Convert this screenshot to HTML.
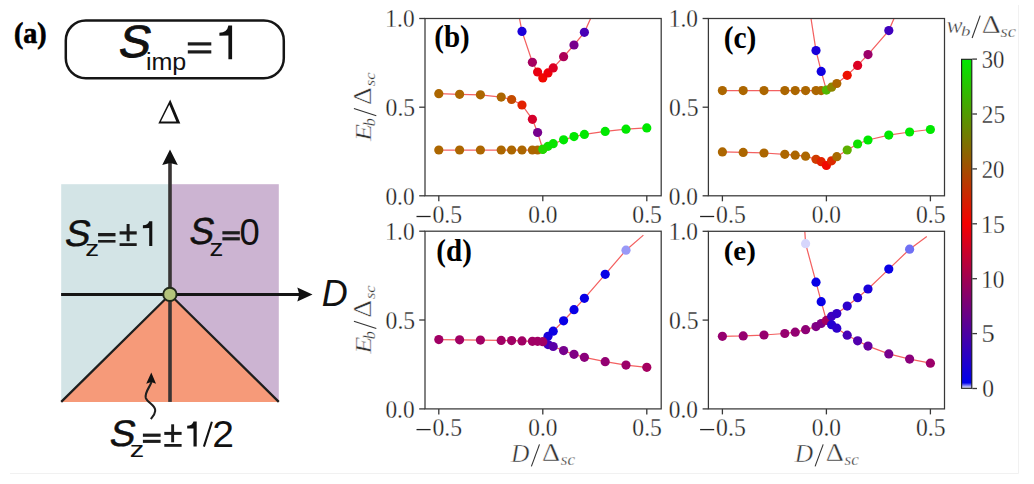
<!DOCTYPE html>
<html><head><meta charset="utf-8"><style>html,body{margin:0;padding:0;background:#fff;width:1034px;height:484px;overflow:hidden}</style></head><body>
<svg width="1034" height="484" viewBox="0 0 1034 484" style="display:block">
<rect x="0" y="0" width="1034" height="484" fill="#ffffff"/>
<line x1="1018.5" y1="5" x2="1018.5" y2="473.5" stroke="#f1f1f1" stroke-width="1"/>
<line x1="10" y1="473.5" x2="1018.5" y2="473.5" stroke="#f1f1f1" stroke-width="1"/>
<clipPath id="clipb"><rect x="425.0" y="18.5" width="236.2" height="177.3"/></clipPath>
<g clip-path="url(#clipb)">
<polyline fill="none" stroke="#f03a3a" stroke-opacity="0.8" stroke-width="1.25" points="519.5,18.5 522.0,31.4 532.4,62.3 537.6,72.0 542.8,77.9 548.0,72.9 553.2,67.9 563.6,56.7 574.0,45.0 584.4,32.3 590.6,18.5"/>
<polyline fill="none" stroke="#f03a3a" stroke-opacity="0.8" stroke-width="1.25" points="438.8,93.7 459.6,94.3 480.4,94.8 501.2,97.1 511.6,99.5 522.0,105.0 532.4,119.3 537.6,132.5 542.8,149.3"/>
<polyline fill="none" stroke="#f03a3a" stroke-opacity="0.8" stroke-width="1.25" points="542.8,149.3 548.0,146.3 553.2,143.7 563.6,139.8 574.0,136.6 584.4,134.4 605.2,131.4 626.0,129.2 646.8,127.9"/>
<polyline fill="none" stroke="#f03a3a" stroke-opacity="0.8" stroke-width="1.25" points="438.8,150.0 459.6,150.0 480.4,150.0 501.2,150.0 511.6,150.0 522.0,150.0 532.4,150.0 537.6,150.0 542.8,149.3"/>
<circle cx="522.0" cy="31.4" r="4.6" fill="#1a00da"/>
<circle cx="532.4" cy="62.3" r="4.6" fill="#a50060"/>
<circle cx="537.6" cy="72.0" r="4.6" fill="#e90011"/>
<circle cx="542.8" cy="77.9" r="4.6" fill="#f10800"/>
<circle cx="548.0" cy="72.9" r="4.6" fill="#ef0008"/>
<circle cx="553.2" cy="67.9" r="4.6" fill="#dc0022"/>
<circle cx="563.6" cy="56.7" r="4.6" fill="#ad0057"/>
<circle cx="574.0" cy="45.0" r="4.6" fill="#77008d"/>
<circle cx="584.4" cy="32.3" r="4.6" fill="#4800b6"/>
<circle cx="438.8" cy="93.7" r="4.6" fill="#ac6600"/>
<circle cx="459.6" cy="94.3" r="4.6" fill="#ac6600"/>
<circle cx="480.4" cy="94.8" r="4.6" fill="#ac6600"/>
<circle cx="501.2" cy="97.1" r="4.6" fill="#ac6600"/>
<circle cx="511.6" cy="99.5" r="4.6" fill="#c44b00"/>
<circle cx="522.0" cy="105.0" r="4.6" fill="#e32100"/>
<circle cx="532.4" cy="119.3" r="4.6" fill="#d5002b"/>
<circle cx="537.6" cy="132.5" r="4.6" fill="#77008d"/>
<circle cx="542.8" cy="149.3" r="4.6" fill="#23d700"/>
<circle cx="548.0" cy="146.3" r="4.6" fill="#11e100"/>
<circle cx="553.2" cy="143.7" r="4.6" fill="#08e500"/>
<circle cx="563.6" cy="139.8" r="4.6" fill="#00e800"/>
<circle cx="574.0" cy="136.6" r="4.6" fill="#00e800"/>
<circle cx="584.4" cy="134.4" r="4.6" fill="#00e800"/>
<circle cx="605.2" cy="131.4" r="4.6" fill="#00e800"/>
<circle cx="626.0" cy="129.2" r="4.6" fill="#00e800"/>
<circle cx="646.8" cy="127.9" r="4.6" fill="#00e800"/>
<circle cx="438.8" cy="150.0" r="4.6" fill="#ac6600"/>
<circle cx="459.6" cy="150.0" r="4.6" fill="#ac6600"/>
<circle cx="480.4" cy="150.0" r="4.6" fill="#ac6600"/>
<circle cx="501.2" cy="150.0" r="4.6" fill="#ac6600"/>
<circle cx="511.6" cy="150.0" r="4.6" fill="#ac6600"/>
<circle cx="522.0" cy="150.0" r="4.6" fill="#ac6600"/>
<circle cx="532.4" cy="150.0" r="4.6" fill="#ac6600"/>
<circle cx="537.6" cy="150.0" r="4.6" fill="#ac6600"/>
<circle cx="542.8" cy="149.3" r="4.6" fill="#23d700"/>
</g>
<rect x="425.0" y="18.5" width="236.2" height="177.3" fill="none" stroke="#383838" stroke-width="1.25"/>
<line x1="438.8" y1="195.8" x2="438.8" y2="201.3" stroke="#383838" stroke-width="1.3"/>
<line x1="542.8" y1="195.8" x2="542.8" y2="201.3" stroke="#383838" stroke-width="1.3"/>
<line x1="646.8" y1="195.8" x2="646.8" y2="201.3" stroke="#383838" stroke-width="1.3"/>
<line x1="419.2" y1="195.8" x2="425.0" y2="195.8" stroke="#383838" stroke-width="1.3"/>
<line x1="419.2" y1="107.2" x2="425.0" y2="107.2" stroke="#383838" stroke-width="1.3"/>
<line x1="419.2" y1="18.5" x2="425.0" y2="18.5" stroke="#383838" stroke-width="1.3"/>
<text transform="translate(432.51,223.00) scale(0.5936,0.6385)" font-family='"Liberation Serif", serif' font-size="40" fill="#222222" stroke="#fff" stroke-width="0.45">0.5</text>
<line x1="416.5" y1="216.5" x2="430.6" y2="216.5" stroke="#222222" stroke-width="1.3"/>
<text transform="translate(528.22,223.00) scale(0.5833,0.6385)" font-family='"Liberation Serif", serif' font-size="40" fill="#222222" stroke="#fff" stroke-width="0.45">0.0</text>
<text transform="translate(632.31,223.00) scale(0.5915,0.6385)" font-family='"Liberation Serif", serif' font-size="40" fill="#222222" stroke="#fff" stroke-width="0.45">0.5</text>
<text transform="translate(385.42,204.70) scale(0.5833,0.6346)" font-family='"Liberation Serif", serif' font-size="40" fill="#222222" stroke="#fff" stroke-width="0.45">0.0</text>
<text transform="translate(385.61,116.05) scale(0.5915,0.6346)" font-family='"Liberation Serif", serif' font-size="40" fill="#222222" stroke="#fff" stroke-width="0.45">0.5</text>
<text transform="translate(385.35,27.40) scale(0.5848,0.6346)" font-family='"Liberation Serif", serif' font-size="40" fill="#222222" stroke="#fff" stroke-width="0.45">1.0</text>
<clipPath id="clipc"><rect x="708.4" y="18.5" width="236.1" height="177.3"/></clipPath>
<g clip-path="url(#clipc)">
<polyline fill="none" stroke="#f03a3a" stroke-opacity="0.8" stroke-width="1.25" points="811.0,18.5 816.0,50.6 821.2,71.4 826.4,90.1"/>
<polyline fill="none" stroke="#f03a3a" stroke-opacity="0.8" stroke-width="1.25" points="722.4,90.6 743.2,90.6 764.0,90.6 784.8,90.6 795.2,90.6 805.6,90.6 816.0,90.6 821.2,90.6 826.4,90.1 831.6,87.2 836.8,83.5 847.2,75.3 857.6,65.4 868.0,54.6 888.8,30.6 894.0,18.5"/>
<polyline fill="none" stroke="#f03a3a" stroke-opacity="0.8" stroke-width="1.25" points="722.4,151.9 743.2,152.4 764.0,153.0 784.8,154.3 795.2,155.2 805.6,156.2 816.0,159.3 821.2,161.7 826.4,165.5 831.6,160.8 836.8,156.7 847.2,150.0 857.6,144.0 868.0,140.0 888.8,135.1 909.6,132.0 930.4,129.5"/>
<circle cx="816.0" cy="50.6" r="4.6" fill="#1a00da"/>
<circle cx="821.2" cy="71.4" r="4.6" fill="#1100e0"/>
<circle cx="722.4" cy="90.6" r="4.6" fill="#ac6600"/>
<circle cx="743.2" cy="90.6" r="4.6" fill="#ac6600"/>
<circle cx="764.0" cy="90.6" r="4.6" fill="#ac6600"/>
<circle cx="784.8" cy="90.6" r="4.6" fill="#ac6600"/>
<circle cx="795.2" cy="90.6" r="4.6" fill="#ac6600"/>
<circle cx="805.6" cy="90.6" r="4.6" fill="#ac6600"/>
<circle cx="816.0" cy="90.6" r="4.6" fill="#ac6600"/>
<circle cx="821.2" cy="90.6" r="4.6" fill="#ac6600"/>
<circle cx="826.4" cy="90.1" r="4.6" fill="#53b700"/>
<circle cx="831.6" cy="87.2" r="4.6" fill="#8d8500"/>
<circle cx="836.8" cy="83.5" r="4.6" fill="#ac6600"/>
<circle cx="847.2" cy="75.3" r="4.6" fill="#ed1000"/>
<circle cx="857.6" cy="65.4" r="4.6" fill="#dc0022"/>
<circle cx="868.0" cy="54.6" r="4.6" fill="#9c0069"/>
<circle cx="888.8" cy="30.6" r="4.6" fill="#3f00be"/>
<circle cx="722.4" cy="151.9" r="4.6" fill="#ac6600"/>
<circle cx="743.2" cy="152.4" r="4.6" fill="#ac6600"/>
<circle cx="764.0" cy="153.0" r="4.6" fill="#ac6600"/>
<circle cx="784.8" cy="154.3" r="4.6" fill="#ac6600"/>
<circle cx="795.2" cy="155.2" r="4.6" fill="#ac6600"/>
<circle cx="805.6" cy="156.2" r="4.6" fill="#ac6600"/>
<circle cx="816.0" cy="159.3" r="4.6" fill="#d03c00"/>
<circle cx="821.2" cy="161.7" r="4.6" fill="#e32100"/>
<circle cx="826.4" cy="165.5" r="4.6" fill="#f10800"/>
<circle cx="831.6" cy="160.8" r="4.6" fill="#dd2a00"/>
<circle cx="836.8" cy="156.7" r="4.6" fill="#a86a00"/>
<circle cx="847.2" cy="150.0" r="4.6" fill="#5daf00"/>
<circle cx="857.6" cy="144.0" r="4.6" fill="#11e100"/>
<circle cx="868.0" cy="140.0" r="4.6" fill="#00e800"/>
<circle cx="888.8" cy="135.1" r="4.6" fill="#00e800"/>
<circle cx="909.6" cy="132.0" r="4.6" fill="#00e800"/>
<circle cx="930.4" cy="129.5" r="4.6" fill="#00e800"/>
</g>
<rect x="708.4" y="18.5" width="236.1" height="177.3" fill="none" stroke="#383838" stroke-width="1.25"/>
<line x1="722.4" y1="195.8" x2="722.4" y2="201.3" stroke="#383838" stroke-width="1.3"/>
<line x1="826.4" y1="195.8" x2="826.4" y2="201.3" stroke="#383838" stroke-width="1.3"/>
<line x1="930.4" y1="195.8" x2="930.4" y2="201.3" stroke="#383838" stroke-width="1.3"/>
<line x1="702.6" y1="195.8" x2="708.4" y2="195.8" stroke="#383838" stroke-width="1.3"/>
<line x1="702.6" y1="107.2" x2="708.4" y2="107.2" stroke="#383838" stroke-width="1.3"/>
<line x1="702.6" y1="18.5" x2="708.4" y2="18.5" stroke="#383838" stroke-width="1.3"/>
<text transform="translate(716.11,223.00) scale(0.5936,0.6385)" font-family='"Liberation Serif", serif' font-size="40" fill="#222222" stroke="#fff" stroke-width="0.45">0.5</text>
<line x1="700.1" y1="216.5" x2="714.2" y2="216.5" stroke="#222222" stroke-width="1.3"/>
<text transform="translate(811.82,223.00) scale(0.5833,0.6385)" font-family='"Liberation Serif", serif' font-size="40" fill="#222222" stroke="#fff" stroke-width="0.45">0.0</text>
<text transform="translate(915.91,223.00) scale(0.5915,0.6385)" font-family='"Liberation Serif", serif' font-size="40" fill="#222222" stroke="#fff" stroke-width="0.45">0.5</text>
<text transform="translate(668.82,204.70) scale(0.5833,0.6346)" font-family='"Liberation Serif", serif' font-size="40" fill="#222222" stroke="#fff" stroke-width="0.45">0.0</text>
<text transform="translate(669.01,116.05) scale(0.5915,0.6346)" font-family='"Liberation Serif", serif' font-size="40" fill="#222222" stroke="#fff" stroke-width="0.45">0.5</text>
<text transform="translate(668.75,27.40) scale(0.5848,0.6346)" font-family='"Liberation Serif", serif' font-size="40" fill="#222222" stroke="#fff" stroke-width="0.45">1.0</text>
<clipPath id="clipd"><rect x="425.0" y="231.2" width="236.2" height="177.7"/></clipPath>
<g clip-path="url(#clipd)">
<polyline fill="none" stroke="#f03a3a" stroke-opacity="0.8" stroke-width="1.25" points="542.8,341.7 548.0,336.3 553.2,331.2 563.6,320.8 574.0,309.7 584.4,298.3 605.2,274.3 626.0,250.2 643.4,235.1"/>
<polyline fill="none" stroke="#f03a3a" stroke-opacity="0.8" stroke-width="1.25" points="542.8,341.7 548.0,344.6 553.2,346.5 563.6,350.6 574.0,354.3 584.4,357.3 605.2,361.7 626.0,365.1 646.8,367.3"/>
<polyline fill="none" stroke="#f03a3a" stroke-opacity="0.8" stroke-width="1.25" points="438.8,339.6 459.6,339.8 480.4,340.1 501.2,340.4 511.6,340.6 522.0,340.9 532.4,341.3 537.6,341.3 542.8,341.7"/>
<circle cx="548.0" cy="336.3" r="4.6" fill="#1a00da"/>
<circle cx="553.2" cy="331.2" r="4.6" fill="#0c00e3"/>
<circle cx="563.6" cy="320.8" r="4.6" fill="#0900e6"/>
<circle cx="574.0" cy="309.7" r="4.6" fill="#0900e6"/>
<circle cx="584.4" cy="298.3" r="4.6" fill="#0900e6"/>
<circle cx="605.2" cy="274.3" r="4.6" fill="#0900e6"/>
<circle cx="626.0" cy="250.2" r="4.6" fill="#9999f7"/>
<circle cx="548.0" cy="344.6" r="4.6" fill="#3f00be"/>
<circle cx="553.2" cy="346.5" r="4.6" fill="#5b00a6"/>
<circle cx="563.6" cy="350.6" r="4.6" fill="#77008d"/>
<circle cx="574.0" cy="354.3" r="4.6" fill="#810084"/>
<circle cx="584.4" cy="357.3" r="4.6" fill="#8a007b"/>
<circle cx="605.2" cy="361.7" r="4.6" fill="#930072"/>
<circle cx="626.0" cy="365.1" r="4.6" fill="#9c0069"/>
<circle cx="646.8" cy="367.3" r="4.6" fill="#a50060"/>
<circle cx="438.8" cy="339.6" r="4.6" fill="#a10064"/>
<circle cx="459.6" cy="339.8" r="4.6" fill="#a10064"/>
<circle cx="480.4" cy="340.1" r="4.6" fill="#a10064"/>
<circle cx="501.2" cy="340.4" r="4.6" fill="#a10064"/>
<circle cx="511.6" cy="340.6" r="4.6" fill="#a10064"/>
<circle cx="522.0" cy="340.9" r="4.6" fill="#a10064"/>
<circle cx="532.4" cy="341.3" r="4.6" fill="#a10064"/>
<circle cx="537.6" cy="341.3" r="4.6" fill="#a10064"/>
<circle cx="542.8" cy="341.7" r="4.6" fill="#a10064"/>
</g>
<rect x="425.0" y="231.2" width="236.2" height="177.7" fill="none" stroke="#383838" stroke-width="1.25"/>
<line x1="438.8" y1="408.9" x2="438.8" y2="414.4" stroke="#383838" stroke-width="1.3"/>
<line x1="542.8" y1="408.9" x2="542.8" y2="414.4" stroke="#383838" stroke-width="1.3"/>
<line x1="646.8" y1="408.9" x2="646.8" y2="414.4" stroke="#383838" stroke-width="1.3"/>
<line x1="419.2" y1="408.9" x2="425.0" y2="408.9" stroke="#383838" stroke-width="1.3"/>
<line x1="419.2" y1="320.0" x2="425.0" y2="320.0" stroke="#383838" stroke-width="1.3"/>
<line x1="419.2" y1="231.2" x2="425.0" y2="231.2" stroke="#383838" stroke-width="1.3"/>
<text transform="translate(432.51,436.10) scale(0.5936,0.6385)" font-family='"Liberation Serif", serif' font-size="40" fill="#222222" stroke="#fff" stroke-width="0.45">0.5</text>
<line x1="416.5" y1="429.6" x2="430.6" y2="429.6" stroke="#222222" stroke-width="1.3"/>
<text transform="translate(528.22,436.10) scale(0.5833,0.6385)" font-family='"Liberation Serif", serif' font-size="40" fill="#222222" stroke="#fff" stroke-width="0.45">0.0</text>
<text transform="translate(632.31,436.10) scale(0.5915,0.6385)" font-family='"Liberation Serif", serif' font-size="40" fill="#222222" stroke="#fff" stroke-width="0.45">0.5</text>
<text transform="translate(385.42,417.80) scale(0.5833,0.6346)" font-family='"Liberation Serif", serif' font-size="40" fill="#222222" stroke="#fff" stroke-width="0.45">0.0</text>
<text transform="translate(385.61,328.95) scale(0.5915,0.6346)" font-family='"Liberation Serif", serif' font-size="40" fill="#222222" stroke="#fff" stroke-width="0.45">0.5</text>
<text transform="translate(385.35,240.10) scale(0.5848,0.6346)" font-family='"Liberation Serif", serif' font-size="40" fill="#222222" stroke="#fff" stroke-width="0.45">1.0</text>
<clipPath id="clipe"><rect x="708.4" y="231.3" width="236.1" height="177.6"/></clipPath>
<g clip-path="url(#clipe)">
<polyline fill="none" stroke="#f03a3a" stroke-opacity="0.8" stroke-width="1.25" points="722.4,336.3 743.2,335.9 764.0,335.0 784.8,333.5 795.2,332.2 805.6,329.7 816.0,326.6 821.2,323.5 826.4,320.4 831.6,316.3 836.8,313.6 847.2,306.1 857.6,297.7 868.0,289.0 888.8,269.1 909.6,249.2 926.8,236.6"/>
<polyline fill="none" stroke="#f03a3a" stroke-opacity="0.8" stroke-width="1.25" points="804.8,231.2 805.6,243.7 816.0,282.2 821.2,301.7 826.4,320.4 831.6,324.7 836.8,328.2 847.2,335.2 857.6,340.8 868.0,346.1 888.8,353.9 909.6,359.1 930.4,363.2"/>
<circle cx="722.4" cy="336.3" r="4.6" fill="#96006f"/>
<circle cx="743.2" cy="335.9" r="4.6" fill="#96006f"/>
<circle cx="764.0" cy="335.0" r="4.6" fill="#96006f"/>
<circle cx="784.8" cy="333.5" r="4.6" fill="#96006f"/>
<circle cx="795.2" cy="332.2" r="4.6" fill="#930072"/>
<circle cx="805.6" cy="329.7" r="4.6" fill="#8f0076"/>
<circle cx="816.0" cy="326.6" r="4.6" fill="#810084"/>
<circle cx="821.2" cy="323.5" r="4.6" fill="#810084"/>
<circle cx="826.4" cy="320.4" r="4.6" fill="#a50060"/>
<circle cx="831.6" cy="316.3" r="4.6" fill="#3f00be"/>
<circle cx="836.8" cy="313.6" r="4.6" fill="#3600c5"/>
<circle cx="847.2" cy="306.1" r="4.6" fill="#2c00cc"/>
<circle cx="857.6" cy="297.7" r="4.6" fill="#2300d3"/>
<circle cx="868.0" cy="289.0" r="4.6" fill="#1a00da"/>
<circle cx="888.8" cy="269.1" r="4.6" fill="#0900e6"/>
<circle cx="909.6" cy="249.2" r="4.6" fill="#7070f4"/>
<circle cx="805.6" cy="243.7" r="4.6" fill="#d6d6fc"/>
<circle cx="816.0" cy="282.2" r="4.6" fill="#0900e6"/>
<circle cx="821.2" cy="301.7" r="4.6" fill="#0900e6"/>
<circle cx="831.6" cy="324.7" r="4.6" fill="#2300d3"/>
<circle cx="836.8" cy="328.2" r="4.6" fill="#2c00cc"/>
<circle cx="847.2" cy="335.2" r="4.6" fill="#4800b6"/>
<circle cx="857.6" cy="340.8" r="4.6" fill="#5200ae"/>
<circle cx="868.0" cy="346.1" r="4.6" fill="#65009e"/>
<circle cx="888.8" cy="353.9" r="4.6" fill="#77008d"/>
<circle cx="909.6" cy="359.1" r="4.6" fill="#8a007b"/>
<circle cx="930.4" cy="363.2" r="4.6" fill="#9c0069"/>
</g>
<rect x="708.4" y="231.3" width="236.1" height="177.6" fill="none" stroke="#383838" stroke-width="1.25"/>
<line x1="722.4" y1="408.9" x2="722.4" y2="414.4" stroke="#383838" stroke-width="1.3"/>
<line x1="826.4" y1="408.9" x2="826.4" y2="414.4" stroke="#383838" stroke-width="1.3"/>
<line x1="930.4" y1="408.9" x2="930.4" y2="414.4" stroke="#383838" stroke-width="1.3"/>
<line x1="702.6" y1="408.9" x2="708.4" y2="408.9" stroke="#383838" stroke-width="1.3"/>
<line x1="702.6" y1="320.1" x2="708.4" y2="320.1" stroke="#383838" stroke-width="1.3"/>
<line x1="702.6" y1="231.3" x2="708.4" y2="231.3" stroke="#383838" stroke-width="1.3"/>
<text transform="translate(716.11,436.10) scale(0.5936,0.6385)" font-family='"Liberation Serif", serif' font-size="40" fill="#222222" stroke="#fff" stroke-width="0.45">0.5</text>
<line x1="700.1" y1="429.6" x2="714.2" y2="429.6" stroke="#222222" stroke-width="1.3"/>
<text transform="translate(811.82,436.10) scale(0.5833,0.6385)" font-family='"Liberation Serif", serif' font-size="40" fill="#222222" stroke="#fff" stroke-width="0.45">0.0</text>
<text transform="translate(915.91,436.10) scale(0.5915,0.6385)" font-family='"Liberation Serif", serif' font-size="40" fill="#222222" stroke="#fff" stroke-width="0.45">0.5</text>
<text transform="translate(668.82,417.80) scale(0.5833,0.6346)" font-family='"Liberation Serif", serif' font-size="40" fill="#222222" stroke="#fff" stroke-width="0.45">0.0</text>
<text transform="translate(669.01,329.00) scale(0.5915,0.6346)" font-family='"Liberation Serif", serif' font-size="40" fill="#222222" stroke="#fff" stroke-width="0.45">0.5</text>
<text transform="translate(668.75,240.20) scale(0.5848,0.6346)" font-family='"Liberation Serif", serif' font-size="40" fill="#222222" stroke="#fff" stroke-width="0.45">1.0</text>
<text transform="translate(434.25,46.94) scale(0.7267,0.7694)" font-family='"Liberation Serif", serif' font-size="40" font-weight="bold" fill="#000">(b)</text>
<text transform="translate(723.63,48.14) scale(0.7366,0.7694)" font-family='"Liberation Serif", serif' font-size="40" font-weight="bold" fill="#000">(c)</text>
<text transform="translate(436.35,261.34) scale(0.7267,0.7694)" font-family='"Liberation Serif", serif' font-size="40" font-weight="bold" fill="#000">(d)</text>
<text transform="translate(723.65,259.80) scale(0.7268,0.7000)" font-family='"Liberation Serif", serif' font-size="40" font-weight="bold" fill="#000">(e)</text>
<g transform="translate(371.0,141.0) rotate(-90)">
<text transform="translate(0.10,0.00) scale(0.7000,0.6000)" font-family='"Liberation Serif", serif' font-size="40" font-style="italic" fill="#333333" stroke="#fff" stroke-width="0.7">E</text>
<text transform="translate(14.69,3.90) scale(0.4059,0.4000)" font-family='"Liberation Serif", serif' font-size="40" font-style="italic" fill="#333333" stroke="#fff" stroke-width="0.7">b</text>
<line x1="25.3" y1="5.3" x2="32.6" y2="-17.1" stroke="#333333" stroke-width="1.1"/>
<text transform="translate(36.11,0.00) scale(0.6913,0.6231)" font-family='"Liberation Serif", serif' font-size="40" fill="#333333" stroke="#fff" stroke-width="0.7">Δ</text>
<text transform="translate(54.79,3.60) scale(0.4125,0.3800)" font-family='"Liberation Serif", serif' font-size="40" font-style="italic" fill="#333333" stroke="#fff" stroke-width="0.7">sc</text>
</g>
<g transform="translate(371.0,353.9) rotate(-90)">
<text transform="translate(0.10,0.00) scale(0.7000,0.6000)" font-family='"Liberation Serif", serif' font-size="40" font-style="italic" fill="#333333" stroke="#fff" stroke-width="0.7">E</text>
<text transform="translate(14.69,3.90) scale(0.4059,0.4000)" font-family='"Liberation Serif", serif' font-size="40" font-style="italic" fill="#333333" stroke="#fff" stroke-width="0.7">b</text>
<line x1="25.3" y1="5.3" x2="32.6" y2="-17.1" stroke="#333333" stroke-width="1.1"/>
<text transform="translate(36.11,0.00) scale(0.6913,0.6231)" font-family='"Liberation Serif", serif' font-size="40" fill="#333333" stroke="#fff" stroke-width="0.7">Δ</text>
<text transform="translate(54.79,3.60) scale(0.4125,0.3800)" font-family='"Liberation Serif", serif' font-size="40" font-style="italic" fill="#333333" stroke="#fff" stroke-width="0.7">sc</text>
</g>
<g transform="translate(0,0)">
<text transform="translate(511.10,461.70) scale(0.6357,0.6423)" font-family='"Liberation Serif", serif' font-size="40" font-style="italic" fill="#333333" stroke="#fff" stroke-width="0.7">D</text>
<line x1="531.4" y1="466.4" x2="539.5" y2="444.4" stroke="#333333" stroke-width="1.1"/>
<text transform="translate(542.10,461.30) scale(0.7043,0.6269)" font-family='"Liberation Serif", serif' font-size="40" fill="#333333" stroke="#fff" stroke-width="0.7">Δ</text>
<text transform="translate(560.77,464.80) scale(0.4281,0.4300)" font-family='"Liberation Serif", serif' font-size="40" font-style="italic" fill="#333333" stroke="#fff" stroke-width="0.7">sc</text>
</g>
<g transform="translate(283.7,0)">
<text transform="translate(511.10,461.70) scale(0.6357,0.6423)" font-family='"Liberation Serif", serif' font-size="40" font-style="italic" fill="#333333" stroke="#fff" stroke-width="0.7">D</text>
<line x1="531.4" y1="466.4" x2="539.5" y2="444.4" stroke="#333333" stroke-width="1.1"/>
<text transform="translate(542.10,461.30) scale(0.7043,0.6269)" font-family='"Liberation Serif", serif' font-size="40" fill="#333333" stroke="#fff" stroke-width="0.7">Δ</text>
<text transform="translate(560.77,464.80) scale(0.4281,0.4300)" font-family='"Liberation Serif", serif' font-size="40" font-style="italic" fill="#333333" stroke="#fff" stroke-width="0.7">sc</text>
</g>
<linearGradient id="cbar" x1="0" y1="1" x2="0" y2="0"><stop offset="0.0000" stop-color="#ffffff"/><stop offset="0.0167" stop-color="#0000eb"/><stop offset="0.5000" stop-color="#f50000"/><stop offset="1.0000" stop-color="#00e800"/></linearGradient>
<rect x="961.6" y="59.3" width="10.2" height="329.0" fill="url(#cbar)" stroke="#1a1a1a" stroke-width="1.1"/>
<line x1="972.3" y1="388.5" x2="977" y2="388.5" stroke="#383838" stroke-width="1.3"/>
<text transform="translate(982.31,397.30) scale(0.5889,0.6077)" font-family='"Liberation Serif", serif' font-size="40" fill="#222222" stroke="#fff" stroke-width="0.45">0</text>
<line x1="972.3" y1="333.6" x2="977" y2="333.6" stroke="#383838" stroke-width="1.3"/>
<text transform="translate(981.57,342.40) scale(0.6625,0.6077)" font-family='"Liberation Serif", serif' font-size="40" fill="#222222" stroke="#fff" stroke-width="0.45">5</text>
<line x1="972.3" y1="278.7" x2="977" y2="278.7" stroke="#383838" stroke-width="1.3"/>
<text transform="translate(981.15,287.50) scale(0.5833,0.6077)" font-family='"Liberation Serif", serif' font-size="40" fill="#222222" stroke="#fff" stroke-width="0.45">10</text>
<line x1="972.3" y1="223.8" x2="977" y2="223.8" stroke="#383838" stroke-width="1.3"/>
<text transform="translate(981.10,232.60) scale(0.6000,0.6077)" font-family='"Liberation Serif", serif' font-size="40" fill="#222222" stroke="#fff" stroke-width="0.45">15</text>
<line x1="972.3" y1="168.9" x2="977" y2="168.9" stroke="#383838" stroke-width="1.3"/>
<text transform="translate(981.76,177.70) scale(0.5676,0.6077)" font-family='"Liberation Serif", serif' font-size="40" fill="#222222" stroke="#fff" stroke-width="0.45">20</text>
<line x1="972.3" y1="114.0" x2="977" y2="114.0" stroke="#383838" stroke-width="1.3"/>
<text transform="translate(981.73,122.80) scale(0.5833,0.6077)" font-family='"Liberation Serif", serif' font-size="40" fill="#222222" stroke="#fff" stroke-width="0.45">25</text>
<line x1="972.3" y1="59.1" x2="977" y2="59.1" stroke="#383838" stroke-width="1.3"/>
<text transform="translate(981.76,67.90) scale(0.5676,0.6077)" font-family='"Liberation Serif", serif' font-size="40" fill="#222222" stroke="#fff" stroke-width="0.45">30</text>
<text transform="translate(946.60,33.20) scale(0.6000,0.5947)" font-family='"Liberation Serif", serif' font-size="40" font-style="italic" fill="#333333" stroke="#fff" stroke-width="0.7">w</text>
<text transform="translate(961.06,36.30) scale(0.4706,0.3724)" font-family='"Liberation Serif", serif' font-size="40" font-style="italic" fill="#333333" stroke="#fff" stroke-width="0.7">b</text>
<line x1="972.1" y1="38.0" x2="980.2" y2="15.6" stroke="#333333" stroke-width="1.1"/>
<text transform="translate(981.66,32.70) scale(0.7391,0.6154)" font-family='"Liberation Serif", serif' font-size="40" fill="#333333" stroke="#fff" stroke-width="0.7">Δ</text>
<text transform="translate(1000.53,36.90) scale(0.4656,0.4150)" font-family='"Liberation Serif", serif' font-size="40" font-style="italic" fill="#333333" stroke="#fff" stroke-width="0.7">sc</text>
<text transform="translate(13.90,42.71) scale(0.7000,0.7361)" font-family='"Liberation Serif", serif' font-size="40" font-weight="bold" fill="#000" stroke="#000" stroke-width="0.9">(a)</text>
<rect x="65.8" y="20.4" width="218" height="57.8" rx="20" ry="20" fill="none" stroke="#151515" stroke-width="2.5"/>
<text transform="translate(116.65,57.07) scale(1.1840,1.1310) skewX(-11)" font-family='"Liberation Sans", sans-serif' font-size="40" fill="#111" stroke="#111" stroke-width="0.8">S</text>
<text transform="translate(145.92,69.68) scale(0.6267,0.6026)" font-family='"Liberation Sans", sans-serif' font-size="40" fill="#111">imp</text>
<rect x="187.80" y="42.30" width="23.50" height="3.20" fill="#1c1c1c"/><rect x="187.80" y="50.30" width="23.50" height="3.20" fill="#1c1c1c"/>
<path d="M232.10,25.40 L232.10,59.20 L228.40,59.20 L228.40,35.60 L219.40,35.80 L219.40,32.70 Q227.20,32.50 228.40,25.40 Z" fill="#111"/>
<path d="M158.3,123.4 L170.2,99.6 L180.3,123.4 Z M160.9,121.4 L176.3,121.4 L169.3,104.8 Z" fill="#111" fill-rule="evenodd"/>
<rect x="61.2" y="184.2" width="108.8" height="217.7" fill="#d3e4e6"/>
<rect x="170" y="184.2" width="108.8" height="217.7" fill="#ccb4d2"/>
<polygon points="61.2,401.9 170,294.5 278.8,401.9" fill="#f69a79"/>
<polyline points="61.2,401.9 170,294.5 278.8,401.9" fill="none" stroke="#1e1e1e" stroke-width="2.3"/>
<line x1="170" y1="160" x2="170" y2="401.9" stroke="#383434" stroke-width="3.6"/>
<polygon points="170,149.6 177.8,165 170,163 162.2,165" fill="#111"/>
<line x1="61.1" y1="294.5" x2="300" y2="294.5" stroke="#151515" stroke-width="3"/>
<polygon points="312.5,294.5 297.3,301.6 299.3,294.5 297.3,287.6" fill="#111"/>
<circle cx="169.9" cy="294.4" r="6.7" fill="#b4c47b" stroke="#222a1a" stroke-width="2"/>
<text transform="translate(321.80,306.20) scale(0.9000,0.9036)" font-family='"Liberation Sans", sans-serif' font-size="40" font-style="italic" fill="#111">D</text>
<text transform="translate(63.36,245.67) scale(0.9480,0.9276) skewX(-11)" font-family='"Liberation Sans", sans-serif' font-size="40" fill="#111" stroke="#111" stroke-width="0.5">S</text>
<text transform="translate(85.31,255.90) scale(0.6937,0.5682)" font-family='"Liberation Sans", sans-serif' font-size="40" fill="#111">z</text>
<rect x="98.10" y="233.00" width="17.40" height="3.30" fill="#1c1c1c"/><rect x="98.10" y="240.00" width="17.40" height="2.60" fill="#1c1c1c"/>
<rect x="119.60" y="231.30" width="17.10" height="3.20" fill="#1a1a1a"/><rect x="126.60" y="224.00" width="3.00" height="17.20" fill="#1a1a1a"/><rect x="119.60" y="243.20" width="17.10" height="2.80" fill="#1a1a1a"/>
<path d="M152.30,221.30 L152.30,246.00 L149.20,246.00 L149.20,228.10 L142.90,228.30 L142.90,225.30 Q148.00,225.10 149.20,221.30 Z" fill="#111"/>
<text transform="translate(187.75,243.66) scale(0.9160,0.9379) skewX(-11)" font-family='"Liberation Sans", sans-serif' font-size="40" fill="#111" stroke="#111" stroke-width="0.5">S</text>
<text transform="translate(209.51,255.80) scale(0.6937,0.5909)" font-family='"Liberation Sans", sans-serif' font-size="40" fill="#111">z</text>
<rect x="222.40" y="231.20" width="17.40" height="3.20" fill="#1c1c1c"/><rect x="222.40" y="237.20" width="17.40" height="3.20" fill="#1c1c1c"/>
<text transform="translate(239.48,244.60) scale(0.9105,0.9286)" font-family='"Liberation Sans", sans-serif' font-size="40" fill="#111">0</text>
<text transform="translate(108.03,446.18) scale(0.9560,0.9241) skewX(-11)" font-family='"Liberation Sans", sans-serif' font-size="40" fill="#111" stroke="#111" stroke-width="0.5">S</text>
<text transform="translate(129.75,456.60) scale(0.7250,0.5636)" font-family='"Liberation Sans", sans-serif' font-size="40" fill="#111">z</text>
<rect x="142.90" y="433.60" width="17.70" height="3.20" fill="#1c1c1c"/><rect x="142.90" y="439.80" width="17.70" height="3.10" fill="#1c1c1c"/>
<rect x="164.30" y="431.90" width="17.30" height="3.00" fill="#1a1a1a"/><rect x="171.20" y="424.30" width="2.90" height="18.00" fill="#1a1a1a"/><rect x="164.30" y="444.00" width="17.30" height="2.80" fill="#1a1a1a"/>
<path d="M196.70,421.40 L196.70,446.60 L193.50,446.60 L193.50,428.40 L187.20,428.60 L187.20,425.70 Q192.30,425.50 193.50,421.40 Z" fill="#111"/>
<line x1="203.9" y1="446.6" x2="211.9" y2="421.8" stroke="#111" stroke-width="2.1"/>
<text transform="translate(212.24,446.60) scale(0.9778,0.9071)" font-family='"Liberation Sans", sans-serif' font-size="40" fill="#111">2</text>
<path d="M151.5,382 C149.5,388 144.5,392 145.8,398 C147.5,403 156,405 155.2,411 C154.8,415 152.5,417 150.8,419" fill="none" stroke="#1e1e1e" stroke-width="2.1"/>
<polygon points="151.3,372.4 156,383.8 151.3,382 146.2,383.8" fill="#111"/>
</svg>
</body></html>
